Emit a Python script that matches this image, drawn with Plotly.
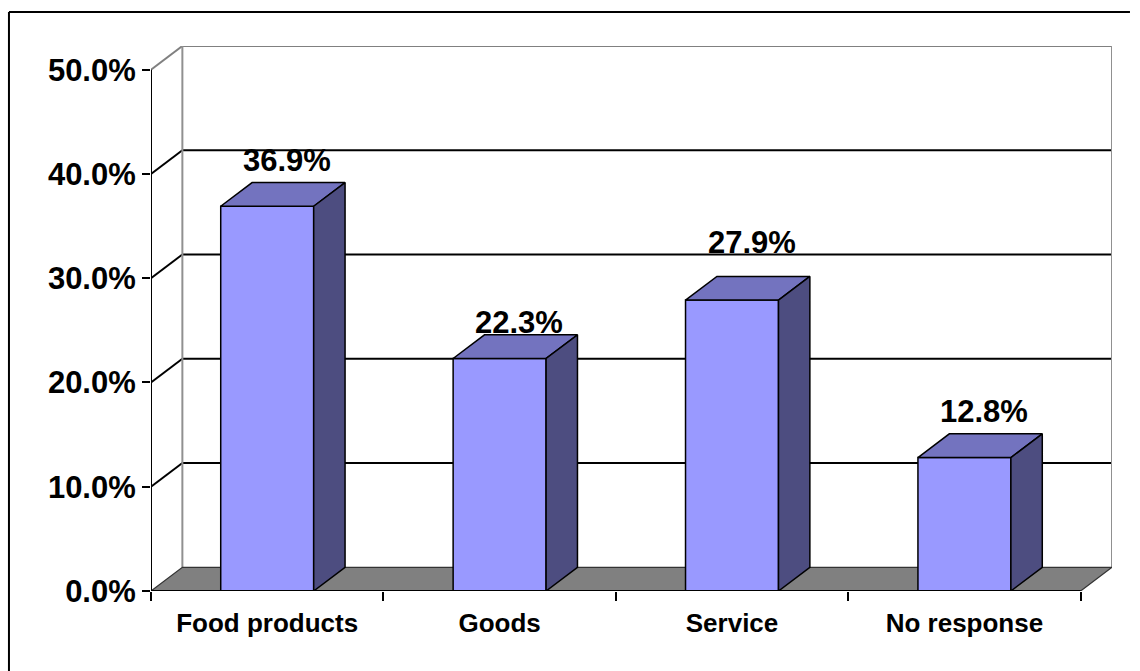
import plotly.graph_objects as go

# Survey result: share of responses by category
categories = ["Food products", "Goods", "Service", "No response"]
shares = [36.9, 22.3, 27.9, 12.8]
y_ticks = [0, 10, 20, 30, 40, 50]

# 3-D look: depth offset of the back plane, in axis units
DEPTH_X = 0.135
DEPTH_Y = 2.27
HALF_W = 0.2
Y_MAX = 50

# value-label placement (pixels above the back edge of each bar top)
label_lift = [22, 12, 34, 22]
LABEL_DX = 0.085

FRONT = "#9999FF"
TOP = "#7373BF"
SIDE = "#4D4D80"
FLOOR = "#808080"
FONT = "Liberation Sans"

fig = go.Figure()

x_left, x_right = -0.5, len(categories) - 0.5

# floor
fig.add_trace(go.Scatter(
    x=[x_left, x_right, x_right + DEPTH_X, x_left + DEPTH_X, x_left],
    y=[0, 0, DEPTH_Y, DEPTH_Y, 0],
    mode="lines", fill="toself", fillcolor=FLOOR,
    line=dict(color="#333333", width=1.2), hoverinfo="skip", showlegend=False,
))

shapes = []
# gridlines on back wall plus their diagonals on the side wall
for t in y_ticks[1:]:
    col = "#808080" if t == Y_MAX else "black"
    shapes.append(dict(type="line", xref="x", yref="y", layer="below",
                       x0=x_left + DEPTH_X, x1=x_right + DEPTH_X,
                       y0=t + DEPTH_Y, y1=t + DEPTH_Y,
                       line=dict(color=col, width=2)))
    shapes.append(dict(type="line", xref="x", yref="y", layer="below",
                       x0=x_left, x1=x_left + DEPTH_X,
                       y0=t, y1=t + DEPTH_Y,
                       line=dict(color=col, width=2)))
# back wall edges
for xe in (x_left + DEPTH_X, x_right + DEPTH_X):
    shapes.append(dict(type="line", xref="x", yref="y", layer="below",
                       x0=xe, x1=xe, y0=DEPTH_Y, y1=Y_MAX + DEPTH_Y,
                       line=dict(color="#909090", width=2)))

# bars: front, top and side faces
for i, v in enumerate(shares):
    xl, xr = i - HALF_W, i + HALF_W
    faces = [
        ([xl, xr, xr, xl, xl], [0, 0, v, v, 0], FRONT),
        ([xl, xr, xr + DEPTH_X, xl + DEPTH_X, xl],
         [v, v, v + DEPTH_Y, v + DEPTH_Y, v], TOP),
        ([xr, xr + DEPTH_X, xr + DEPTH_X, xr, xr],
         [0, DEPTH_Y, v + DEPTH_Y, v, 0], SIDE),
    ]
    for fx, fy, col in faces:
        fig.add_trace(go.Scatter(
            x=fx, y=fy, mode="lines", fill="toself", fillcolor=col,
            line=dict(color="black", width=1.5), hoverinfo="skip",
            showlegend=False,
        ))

# invisible trace so the category axis is rendered
fig.add_trace(go.Scatter(
    x=list(range(len(categories))), y=[0] * len(categories),
    xaxis="x2", yaxis="y", mode="markers", marker=dict(opacity=0),
    hoverinfo="skip", showlegend=False,
))

# front axis lines
shapes.append(dict(type="line", xref="x", yref="y", layer="above",
                   x0=x_left, x1=x_left, y0=0, y1=Y_MAX,
                   line=dict(color="black", width=2)))
shapes.append(dict(type="line", xref="x", yref="y", layer="above",
                   x0=x_left, x1=x_right, y0=0, y1=0,
                   line=dict(color="black", width=2)))

# outer chart frame (top and left edges)
shapes.append(dict(type="line", xref="paper", yref="paper",
                   x0=-0.1478, x1=1.0187, y0=1.0624, y1=1.0624,
                   line=dict(color="black", width=2)))
shapes.append(dict(type="line", xref="paper", yref="paper",
                   x0=-0.1478, x1=-0.1478, y0=-0.15, y1=1.0624,
                   line=dict(color="black", width=2)))

annotations = []
for i, v in enumerate(shares):
    annotations.append(dict(
        x=i + LABEL_DX, y=v + DEPTH_Y, xref="x", yref="y",
        text=f"{v:.1f}%", showarrow=False, yanchor="middle",
        yshift=label_lift[i],
        font=dict(family=FONT, size=31, color="black", weight="bold"),
    ))

fig.update_layout(
    width=1140, height=671,
    margin=dict(l=151, r=28, t=46, b=80),
    paper_bgcolor="white", plot_bgcolor="white",
    showlegend=False,
    shapes=shapes, annotations=annotations,
    xaxis=dict(range=[x_left, x_right + DEPTH_X], showgrid=False,
               zeroline=False, showline=False,
               tickvals=[x_left + k for k in range(len(categories) + 1)],
               ticks="outside", ticklen=9, tickwidth=2, tickcolor="black",
               showticklabels=False),
    xaxis2=dict(range=[x_left, x_right + DEPTH_X], overlaying="x",
                anchor="y", side="bottom", showgrid=False, zeroline=False,
                showline=False, tickvals=list(range(len(categories))),
                ticktext=categories, ticks="", ticklabelstandoff=14,
                tickfont=dict(family=FONT, size=26, color="black",
                              weight="bold")),
    yaxis=dict(range=[0, Y_MAX + DEPTH_Y], showgrid=False, zeroline=False,
               showline=False, tickvals=y_ticks,
               ticktext=[f"{t:.1f}%" for t in y_ticks],
               ticks="outside", ticklen=8, tickwidth=2, tickcolor="black",
               tickfont=dict(family=FONT, size=31, color="black",
                             weight="bold")),
)

fig.write_html("out.html")
